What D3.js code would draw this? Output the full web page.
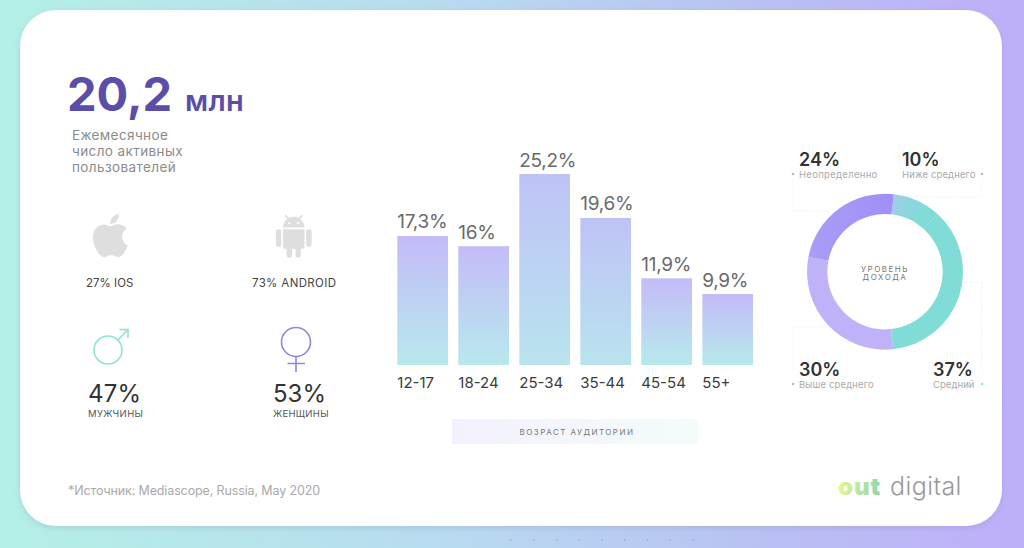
<!DOCTYPE html>
<html>
<head>
<meta charset="utf-8">
<script src="https://cdn.jsdelivr.net/npm/d3@7"></script>
<style>
  html, body { margin: 0; padding: 0; background: #fff; overflow: hidden; }
  svg { display: block; }
  text { font-family: Inter, "Noto Sans", sans-serif; }
</style>
</head>
<body>
<svg id="chart" width="1024" height="548"></svg>
<script>
// values
var ageGroups = ["12-17", "18-24", "25-34", "35-44", "45-54", "55+"];
var ageShares = [17.3, 16, 25.2, 19.6, 11.9, 9.9];
var ageLabels = ["17,3%", "16%", "25,2%", "19,6%", "11,9%", "9,9%"];

var incomeGroups = ["Ниже среднего", "Средний", "Выше среднего", "Неопределенно"];
var incomeShares = [10, 37, 30, 24];
var incomeColors = ["url(#sliceLow)", "#7fdcd7", "#c0b2f9", "url(#sliceUnknown)"];

var svg = d3.select("#chart");
var defs = svg.append("defs");

function gradient(id, x2, y2, stops) {
    var g = defs.append("linearGradient").attr("id", id)
        .attr("x1", 0).attr("y1", 0).attr("x2", x2).attr("y2", y2);
    stops.forEach(function(s) {
        g.append("stop").attr("offset", s[0]).attr("stop-color", s[1]);
    });
}
gradient("page", 1, 0, [[0, "#b4f0e6"], [0.45, "#b8daf0"], [0.75, "#b9c0f3"], [1, "#bfaefa"]]);
gradient("bar", 0, 1, [[0, "#c4bbf8"], [1, "#b7e9ec"]]);
gradient("barTall", 0, 1, [[0, "#bec3f6"], [1, "#b9e3ee"]]);
gradient("panel", 1, 0, [[0, "#f3f1fd"], [1, "#f4fcfb"]]);
gradient("sliceLow", 1, 0.4, [[0, "#a3cde9"], [0.75, "#7fdcd7"]]);
gradient("sliceUnknown", 1, 0, [[0, "#a99df6"], [1, "#a08ff6"]]);
gradient("logo", 1, 0, [[0, "#e6f692"], [1, "#8bd6aa"]]);

var shadow = defs.append("filter").attr("id", "soft")
    .attr("x", "-5%").attr("y", "-5%").attr("width", "110%").attr("height", "110%");
shadow.append("feDropShadow").attr("dx", 0).attr("dy", 2).attr("stdDeviation", 3)
    .attr("flood-color", "#7d7ab0").attr("flood-opacity", 0.25);

// page and card
svg.append("rect").attr("width", 1024).attr("height", 548).attr("fill", "url(#page)");
svg.append("rect").attr("x", 20).attr("y", 10).attr("width", 982).attr("height", 516)
    .attr("rx", 36).attr("fill", "#fff").attr("filter", "url(#soft)");

// faint pager dots under the card
d3.range(9).forEach(function(i) {
    svg.append("circle").attr("cx", 511 + i * 22.75).attr("cy", 540).attr("r", 0.8)
        .attr("fill", "#9aa3d4");
});

function label(x, y, str, size, color, opts) {
    opts = opts || {};
    return svg.append("text").attr("x", x).attr("y", y).text(str)
        .attr("font-size", size).attr("fill", color)
        .attr("font-weight", opts.weight || 400)
        .attr("text-anchor", opts.anchor || "start")
        .attr("letter-spacing", opts.spacing || 0);
}

// headline
label(67, 111, "20,2", 47, "#5a4ea8", {weight: 700});
label(185, 111, "млн", 29, "#5a4ea8", {weight: 600, spacing: 0.3});
label(72, 140, "Ежемесячное", 13.5, "#8b8b8b", {spacing: 0.4});
label(72, 156, "число активных", 13.5, "#8b8b8b", {spacing: 0.4});
label(72, 172, "пользователей", 13.5, "#8b8b8b", {spacing: 0.4});

// platform icons
svg.append("path").attr("transform", "translate(84.6,209.7) scale(2.15)").attr("fill", "#dedede")
    .attr("d", "M18.71,19.5C17.88,20.74 17,21.95 15.66,21.97C14.32,22 13.89,21.18 12.37,21.18C10.84,21.18 10.37,21.95 9.1,22C7.79,22.05 6.8,20.68 5.96,19.47C4.25,17 2.94,12.45 4.7,9.39C5.57,7.87 7.13,6.91 8.82,6.88C10.1,6.86 11.32,7.75 12.11,7.75C12.89,7.75 14.37,6.68 15.92,6.84C16.57,6.87 18.39,7.1 19.56,8.82C19.47,8.88 17.39,10.1 17.41,12.63C17.44,15.65 20.06,16.66 20.09,16.67C20.06,16.74 19.67,18.11 18.71,19.5M13,3.5C13.73,2.67 14.94,2.04 15.94,2C16.07,3.17 15.6,4.35 14.9,5.19C14.21,6.04 13.07,6.7 11.95,6.61C11.8,5.46 12.36,4.26 13,3.5Z");
svg.append("path").attr("transform", "translate(272.4,215) scale(1.78)").attr("fill", "#dedede")
    .attr("d", "M15,5H14V4H15M10,5H9V4H10M15.53,2.16L16.84,0.85C17.03,0.66 17.03,0.34 16.84,0.14C16.64,-0.05 16.32,-0.05 16.13,0.14L14.65,1.62C13.85,1.23 12.95,1 12,1C11.04,1 10.14,1.23 9.34,1.63L7.85,0.14C7.66,-0.05 7.34,-0.05 7.15,0.14C6.95,0.34 6.95,0.66 7.15,0.85L8.46,2.16C6.97,3.26 6,5 6,7H18C18,5 17,3.25 15.53,2.16M20.5,8A1.5,1.5 0 0,0 19,9.5V16.5A1.5,1.5 0 0,0 20.5,18A1.5,1.5 0 0,0 22,16.5V9.5A1.5,1.5 0 0,0 20.5,8M3.5,8A1.5,1.5 0 0,0 2,9.5V16.5A1.5,1.5 0 0,0 3.5,18A1.5,1.5 0 0,0 5,16.5V9.5A1.5,1.5 0 0,0 3.5,8M6,18A1,1 0 0,0 7,19H8V22.5A1.5,1.5 0 0,0 9.5,24A1.5,1.5 0 0,0 11,22.5V19H13V22.5A1.5,1.5 0 0,0 14.5,24A1.5,1.5 0 0,0 16,22.5V19H17A1,1 0 0,0 18,18V8H6V18Z");
label(86, 287, "27% IOS", 11.5, "#444");
label(252, 287, "73% ANDROID", 11.5, "#444", {spacing: 0.35});

// gender icons
svg.append("path").attr("fill", "none").attr("stroke", "#8fe2d6").attr("stroke-width", 1.6)
    .attr("d", "M118,340L128,329.5M119.5,329.5H128V338");
svg.append("circle").attr("cx", 108).attr("cy", 350).attr("r", 14)
    .attr("fill", "none").attr("stroke", "#8fe2d6").attr("stroke-width", 1.6);
svg.append("circle").attr("cx", 296).attr("cy", 342).attr("r", 14.5)
    .attr("fill", "none").attr("stroke", "#8d88d8").attr("stroke-width", 1.6);
svg.append("path").attr("fill", "none").attr("stroke", "#8d88d8").attr("stroke-width", 1.6)
    .attr("d", "M296,356.5V372M287.5,363.5H305");
label(88, 401.5, "47%", 24, "#333", {spacing: 0.2});
label(88, 416.5, "МУЖЧИНЫ", 9.5, "#555", {spacing: 0.4});
label(273, 401.5, "53%", 24, "#333");
label(273, 416.5, "ЖЕНЩИНЫ", 9.5, "#555", {spacing: 0.3});

// age bars
var x = d3.scaleBand().domain(ageGroups).range([397.3, 753]).paddingInner(0.169).paddingOuter(0);
var y = d3.scaleLinear().domain([0.85, 25.2]).range([365, 174]);

svg.append("g").selectAll("rect").data(ageShares).join("rect")
    .attr("x", function(d, i) { return x(ageGroups[i]); })
    .attr("y", function(d) { return y(d); })
    .attr("width", x.bandwidth())
    .attr("height", function(d) { return y.range()[0] - y(d); })
    .attr("fill", function(d) { return d > 19 ? "url(#barTall)" : "url(#bar)"; });

svg.append("g").selectAll("text").data(ageShares).join("text")
    .attr("x", function(d, i) { return x(ageGroups[i]); })
    .attr("y", function(d) { return y(d) - 7.5; })
    .attr("font-size", 19).attr("fill", "#6a6a6a").attr("letter-spacing", -0.3)
    .text(function(d, i) { return ageLabels[i]; });

var axis = svg.append("g").attr("transform", "translate(0,365)")
    .call(d3.axisBottom(x).tickSize(0).tickPadding(0));
axis.select(".domain").remove();
axis.selectAll("text")
    .attr("text-anchor", "start")
    .attr("dx", -x.bandwidth() / 2)
    .attr("y", 23).attr("dy", 0)
    .attr("font-size", 15).attr("fill", "#3c3c3c")
    .style("font-family", "Inter");

svg.append("rect").attr("x", 452).attr("y", 419).attr("width", 246).attr("height", 25).attr("fill", "url(#panel)");
label(577, 435, "ВОЗРАСТ АУДИТОРИИ", 8, "#777", {anchor: "middle", spacing: 1.45});

// leader lines behind the donut
var leaders = ["M793,179V211H830", "M982,179V197H905", "M982,372V282H960", "M793,372V327H830"];
svg.append("g").selectAll("path").data(leaders).join("path")
    .attr("d", function(d) { return d; })
    .attr("fill", "none").attr("stroke", "#ececec").attr("stroke-width", 0.8).attr("stroke-dasharray", "1.5 1.5");

// income donut
var pie = d3.pie().sort(null).startAngle(6.5 * Math.PI / 180).endAngle(366.5 * Math.PI / 180);
var arc = d3.arc().innerRadius(57.7).outerRadius(78);
var donut = svg.append("g").attr("transform", "translate(885,271.7)");
donut.selectAll("path").data(pie(incomeShares)).join("path")
    .attr("d", arc)
    .attr("fill", function(d, i) { return incomeColors[i]; });

label(885, 271.5, "УРОВЕНЬ", 8, "#777", {anchor: "middle", spacing: 1.5});
label(885, 280, "ДОХОДА", 8, "#777", {anchor: "middle", spacing: 1.5});

// income labels: Неопределенно, Ниже среднего, Выше среднего, Средний
label(799, 166, incomeShares[3] + "%", 18, "#333", {weight: 600});
label(799, 177.5, incomeGroups[3], 9.5, "#aaa", {spacing: 0.3});
label(902, 166, incomeShares[0] + "%", 18, "#333", {weight: 600});
label(902, 177.5, incomeGroups[0], 9.5, "#aaa", {spacing: 0.12});
label(799, 376, incomeShares[2] + "%", 18, "#333", {weight: 600});
label(799, 387.5, incomeGroups[2], 9.5, "#aaa", {spacing: 0.15});
label(933, 376, incomeShares[1] + "%", 18, "#333", {weight: 600});
label(933, 387.5, incomeGroups[1], 9.5, "#aaa", {spacing: 0.05});

var dots = [[793, 174], [982, 174], [793, 384], [982, 384]];
svg.append("g").selectAll("circle").data(dots).join("circle")
    .attr("cx", function(d) { return d[0]; }).attr("cy", function(d) { return d[1]; })
    .attr("r", 1.3)
    .attr("fill", function(d, i) { return i == 3 ? "#8fe2d6" : "#bbb"; });

// footer
label(68, 495, "*Источник: Mediascope, Russia, May 2020", 12.5, "#aaa", {spacing: -0.13});
label(838, 495, "out", 24, "url(#logo)", {weight: 900, spacing: 1});
label(890, 495, "digital", 25, "#999", {weight: 300, spacing: 0.4});
</script>
</body>
</html>
